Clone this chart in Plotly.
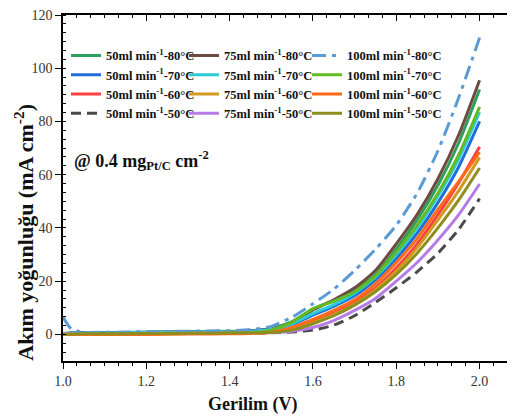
import plotly.graph_objects as go

# ---- data ----
voltage = [1.0, 1.02, 1.05, 1.1, 1.2, 1.3, 1.4, 1.45, 1.5, 1.55, 1.6, 1.65, 1.7, 1.75, 1.8, 1.85, 1.9, 1.95, 2.0]

s50_80 = [0.2, 0.5, 0.6, 0.6, 0.8, 1.0, 1.2, 1.4, 2.2, 4.8, 9.6, 12.6, 16.5, 22.5, 32, 43, 56, 72, 92]
s75_80 = [0.3, 0.4, 0.5, 0.5, 0.7, 0.9, 1.1, 1.3, 2.0, 4.5, 9.2, 13, 17.5, 24, 34, 45, 58.5, 75, 95.5]
s100_80 = [6.5, 2.0, 0.8, 0.8, 1.0, 1.2, 1.4, 1.8, 3.0, 6.5, 11.5, 17, 24, 32, 41, 53, 69, 89, 111.5]
s50_70 = [0.3, 0.5, 0.6, 0.6, 0.8, 1.0, 1.1, 1.3, 1.8, 3.8, 7.2, 10.5, 14.5, 20.5, 28.5, 38, 49.5, 63, 80]
s75_70 = [0.2, 0.4, 0.5, 0.5, 0.7, 0.9, 1.0, 1.2, 1.8, 4.0, 7.8, 11.2, 15.5, 21.5, 30, 40, 52, 66, 83.5]
s100_70 = [0, 0, 0.1, 0.1, 0.2, 0.3, 0.4, 0.6, 1.6, 4.6, 9.6, 12.5, 16, 22, 31, 41, 53, 67.5, 85.5]
s50_60 = [0.1, 0.2, 0.3, 0.3, 0.4, 0.5, 0.6, 0.7, 0.9, 2.0, 4.8, 8, 12, 17.5, 25, 34, 45, 57, 70.5]
s75_60 = [0.1, 0.2, 0.3, 0.3, 0.4, 0.5, 0.6, 0.7, 0.8, 1.8, 4.4, 7.4, 11.4, 16.8, 23.8, 32.5, 43, 54, 66.5]
s100_60 = [0, 0, 0, 0, 0, 0.1, 0.2, 0.3, 0.8, 2.6, 5.6, 9, 13, 19, 27, 36, 47, 57.5, 68.5]
s50_50 = [0.1, 0.2, 0.3, 0.3, 0.3, 0.4, 0.5, 0.5, 0.6, 0.9, 1.6, 3.5, 7, 12, 17.5, 23.5, 30.5, 39.5, 51]
s75_50 = [0.1, 0.2, 0.3, 0.3, 0.3, 0.4, 0.5, 0.6, 0.7, 1.2, 2.6, 5.2, 9, 13.5, 20, 27, 35.5, 45, 56.5]
s100_50 = [0, 0.1, 0.2, 0.2, 0.3, 0.4, 0.5, 0.6, 0.7, 1.6, 4, 7, 11, 16, 22.5, 30.5, 40, 50.5, 62.5]

flow_rates = ["50", "75", "100"]
temperatures = ["80", "70", "60", "50"]
series_values = {
    ("50", "80"): s50_80, ("75", "80"): s75_80, ("100", "80"): s100_80,
    ("50", "70"): s50_70, ("75", "70"): s75_70, ("100", "70"): s100_70,
    ("50", "60"): s50_60, ("75", "60"): s75_60, ("100", "60"): s100_60,
    ("50", "50"): s50_50, ("75", "50"): s75_50, ("100", "50"): s100_50,
}
colors = {
    ("50", "80"): "#2E9E5B", ("75", "80"): "#6E4A40", ("100", "80"): "#5B9BD5",
    ("50", "70"): "#1F6FD8", ("75", "70"): "#2CCCD6", ("100", "70"): "#62BB22",
    ("50", "60"): "#FF4040", ("75", "60"): "#D19A1C", ("100", "60"): "#FF6A1A",
    ("50", "50"): "#4A4A4A", ("75", "50"): "#B67CE6", ("100", "50"): "#8E8E1E",
}
dashes = {("100", "80"): "14px,6px,4px,6px", ("50", "50"): "10px,6px"}

x_ticks = [1.0, 1.2, 1.4, 1.6, 1.8, 2.0]
x_ticklabels = ["1.0", "1.2", "1.4", "1.6", "1.8", "2.0"]
y_ticks = [0, 20, 40, 60, 80, 100, 120]

FONT = "Liberation Serif"
OFF = 8  # page body margin around the plot div

fig = go.Figure()
legend_ids = {"50": "legend", "75": "legend2", "100": "legend3"}
for flow in flow_rates:
    for temp in temperatures:
        key = (flow, temp)
        fig.add_trace(go.Scatter(
            x=voltage, y=series_values[key],
            name=f"{flow}ml min<sup>-1</sup>-{temp}°C", mode="lines",
            legend=legend_ids[flow],
            line=dict(color=colors[key], width=3, dash=dashes.get(key, "solid"),
                      shape="spline", smoothing=0.6),
        ))

# helper empty trace for mirror axes
fig.add_trace(go.Scatter(x=[None], y=[None], xaxis="x2", yaxis="y2",
                         showlegend=False, hoverinfo="skip"))

W, H = 515 - OFF, 419 - OFF
ml, mr, mt, mb = 63 - OFF, 0, 13 - OFF, 58
pw, ph = W - ml - mr, H - mt - mb


def px_x(sx):  # screenshot x -> paper x
    return (sx - OFF - ml) / pw


def px_y(sy):  # screenshot y -> paper y
    return (H - mb - (sy - OFF)) / ph


axis_common = dict(showline=True, linecolor="black", linewidth=1.5,
                   showgrid=False, zeroline=False)
xr = [1.0, 2.085]
yr = [-10, 120]
tickfont = dict(family=FONT, size=14, color="#333")

legend_font = dict(family=FONT, size=12.5, color="#111", weight="bold")


def make_legend(sx):
    return dict(x=px_x(sx - 6), y=px_y(39), xanchor="left", yanchor="top",
                orientation="v", itemwidth=30, traceorder="normal",
                font=legend_font, bgcolor="rgba(0,0,0,0)")


fig.update_layout(
    width=W, height=H, autosize=False,
    margin=dict(l=ml, r=mr, t=mt, b=mb, pad=0),
    paper_bgcolor="white", plot_bgcolor="white",
    font=dict(family=FONT, color="#222", size=14),
    showlegend=True,
    xaxis=dict(range=xr, tickvals=x_ticks, ticktext=x_ticklabels,
               ticks="outside", ticklen=6, tickwidth=1.3, tickcolor="black",
               minor=dict(dtick=0.2 / 6, tick0=1.0, ticks="outside", ticklen=3,
                          tickwidth=1.1, tickcolor="black"),
               ticklabeloverflow="allow",
               tickfont=tickfont, **axis_common),
    yaxis=dict(range=yr, tickvals=y_ticks,
               ticks="outside", ticklen=6, tickwidth=1.3, tickcolor="black",
               minor=dict(dtick=20 / 6, tick0=0, ticks="inside", ticklen=3,
                          tickwidth=1.1, tickcolor="black"),
               ticklabeloverflow="allow",
               tickfont=tickfont, **axis_common),
    xaxis2=dict(range=xr, overlaying="x", side="top", anchor="y",
                tickvals=x_ticks, showticklabels=False,
                ticks="inside", ticklen=6, tickwidth=1.3, tickcolor="black",
                minor=dict(dtick=0.2 / 6, tick0=1.0, ticks="inside", ticklen=3,
                           tickwidth=1.1, tickcolor="black"),
                **axis_common),
    yaxis2=dict(range=yr, overlaying="y", side="right", anchor="x",
                tickvals=y_ticks, showticklabels=False,
                ticks="inside", ticklen=6, tickwidth=1.3, tickcolor="black",
                minor=dict(dtick=20 / 6, tick0=0, ticks="inside", ticklen=3,
                           tickwidth=1.1, tickcolor="black"),
                **axis_common),
    legend=make_legend(72),
    legend2=make_legend(190),
    legend3=make_legend(313),
    annotations=[
        dict(text="<b>Akım yoğunluğu (mA cm<sup>-2</sup>)</b>", textangle=-90,
             xref="paper", yref="paper", x=px_x(24), y=px_y(232),
             xanchor="center", yanchor="middle", showarrow=False,
             font=dict(family=FONT, size=22, color="#111")),
        dict(text="<b>Gerilim (V)</b>",
             xref="paper", yref="paper", x=px_x(252), y=px_y(405),
             xanchor="center", yanchor="middle", showarrow=False,
             font=dict(family=FONT, size=18, color="#111")),
        dict(text="<b>@ 0.4 mg<sub>Pt/C</sub> cm<sup>-2</sup></b>",
             xref="paper", yref="paper", x=px_x(72), y=px_y(159),
             xanchor="left", yanchor="middle", showarrow=False,
             font=dict(family=FONT, size=18, color="#111")),
    ],
)

fig.write_html("out.html")
